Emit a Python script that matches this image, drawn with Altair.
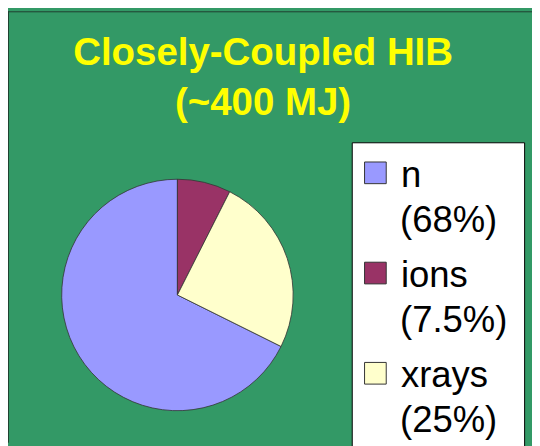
import altair as alt
import pandas as pd

categories = ["n", "ions", "xrays"]
percents = [68, 7.5, 25]
pct_labels = ["(68%)", "(7.5%)", "(25%)"]
slice_order = [2, 0, 1]
colors = ["#9999FF", "#993366", "#FFFFCC"]
title_lines = ["Closely-Coupled HIB", "(~400 MJ)"]

df = pd.DataFrame({"cat": categories, "pct": percents, "label": pct_labels, "ord": slice_order})

W, H = 532, 438
FONT = "Liberation Sans"

color = alt.Color("cat:N", scale=alt.Scale(domain=categories, range=colors), legend=None)
base = alt.Chart(df)

pie = base.mark_arc(radius=117.5, stroke="#333333", strokeWidth=0.8).encode(
    theta=alt.Theta("pct:Q", stack=True),
    order=alt.Order("ord:Q"),
    color=color,
    x=alt.value(172),
    y=alt.value(288),
)

one = alt.Chart(pd.DataFrame({"t": ["\n".join(title_lines)]}))

frame_left = one.mark_rule(color="#1f3f2f", strokeWidth=1).encode(
    x=alt.value(0.5), y=alt.value(0), y2=alt.value(H))
frame_top = one.mark_rule(color="#1f3f2f", strokeWidth=1).encode(
    x=alt.value(0), x2=alt.value(W), y=alt.value(0.5))

title = one.mark_text(
    fontSize=39, fontWeight="bold", color="#FFFF00", font=FONT,
    baseline="alphabetic", align="center", lineBreak="\n", lineHeight=50,
).encode(x=alt.value(259), y=alt.value(55), text="t:N")

box = one.mark_rect(fill="white", stroke="black", strokeWidth=1).encode(
    x=alt.value(349.5), x2=alt.value(524.5), y=alt.value(133.5), y2=alt.value(H + 20))

ly = alt.Y("cat:N", sort=categories,
           scale=alt.Scale(domain=categories, range=[164, 367.5], padding=0), axis=None)

squares = base.mark_square(size=484, stroke="#333333", strokeWidth=1, opacity=1).encode(
    x=alt.value(373), y=ly, color=color)

names = base.mark_text(align="left", baseline="alphabetic", dy=14, fontSize=37,
                       font=FONT, color="black").encode(
    x=alt.value(399), y=ly, text="cat:N")

pcts = base.mark_text(align="left", baseline="alphabetic", dy=60, fontSize=37,
                      font=FONT, color="black").encode(
    x=alt.value(398), y=ly, text="label:N")

chart = alt.layer(frame_left, frame_top, title, pie, box, squares, names, pcts).properties(
    width=W, height=H, autosize=alt.AutoSizeParams(type="none"), padding=0,
    background="#339966",
).configure_view(stroke=None)

chart.save("out.html", embed_options={"renderer": "svg", "actions": False})
